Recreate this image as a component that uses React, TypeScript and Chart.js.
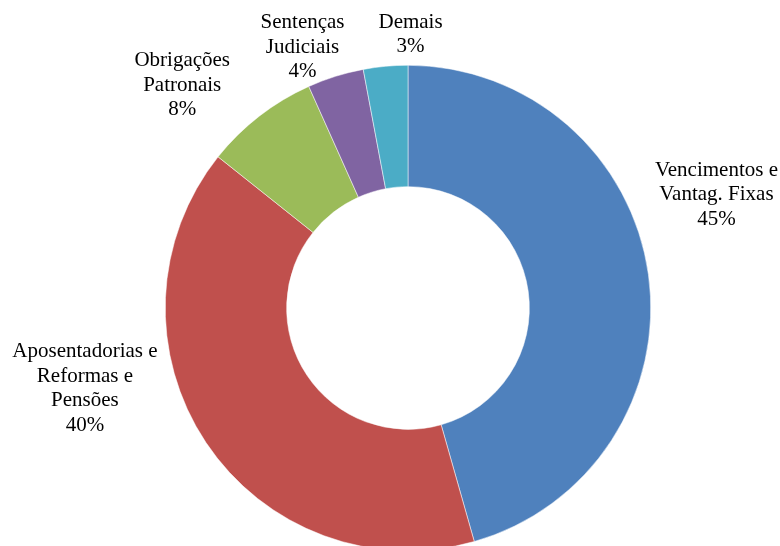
import React, { useEffect, useRef } from "react";
import { Chart, registerables } from "chart.js";

Chart.register(...registerables);

const categories: string[][] = [
  ["Vencimentos e", "Vantag. Fixas"],
  ["Aposentadorias e", "Reformas e", "Pensões"],
  ["Obrigações", "Patronais"],
  ["Sentenças", "Judiciais"],
  ["Demais"],
];
const values: number[] = [45.6, 40.1, 7.6, 3.75, 2.95];
const percentLabels: string[] = ["45%", "40%", "8%", "4%", "3%"];
const colors: string[] = ["#4F81BD", "#C0504D", "#9BBB59", "#8064A2", "#4BACC6"];

// label placement relative to the outer edge point at each slice's mid-angle
const labelOffsets: [number, number][] = [
  [68, -80],
  [-121, -54],
  [-77, -31],
  [-33, -29],
  [25, -32],
];

const labelPlugin = {
  id: "sliceLabels",
  afterDatasetsDraw(chart: any) {
    const ctx = chart.ctx;
    const meta = chart.getDatasetMeta(0);
    ctx.save();
    ctx.font = '21px "Liberation Serif", "Times New Roman", serif';
    ctx.fillStyle = "#000";
    ctx.textAlign = "center";
    ctx.textBaseline = "middle";
    const lineH = 24.5;
    meta.data.forEach((arc: any, i: number) => {
      const { x, y, startAngle, endAngle, outerRadius } = arc.getProps(
        ["x", "y", "startAngle", "endAngle", "outerRadius"],
        true
      );
      const mid = (startAngle + endAngle) / 2;
      const ex = x + Math.cos(mid) * outerRadius;
      const ey = y + Math.sin(mid) * outerRadius;
      const cx = ex + labelOffsets[i][0];
      const cy = ey + labelOffsets[i][1];
      const lines = [...categories[i], percentLabels[i]];
      const top = cy - ((lines.length - 1) * lineH) / 2;
      lines.forEach((l, k) => ctx.fillText(l, cx, top + k * lineH));
    });
    ctx.restore();
  },
};

export default function App() {
  const ref = useRef<HTMLCanvasElement>(null);
  useEffect(() => {
    document.body.style.margin = "0";
    const chart = new Chart(ref.current!, {
      type: "doughnut",
      data: {
        labels: categories.map((c) => c.join(" ")),
        datasets: [
          {
            data: values,
            backgroundColor: colors,
            borderWidth: 0.5,
            borderColor: "#ffffff",
          },
        ],
      },
      options: {
        responsive: false,
        animation: false,
        cutout: "50%",
        layout: { padding: { left: 165, right: 129, top: 65, bottom: 69 } },
        plugins: { legend: { display: false }, tooltip: { enabled: false } },
      },
      plugins: [labelPlugin],
    });
    return () => chart.destroy();
  }, []);
  return (
    <div style={{ position: "absolute", left: 0, top: 0, width: 780, height: 546, overflow: "hidden", background: "#fff" }}>
      <canvas ref={ref} width={780} height={620} style={{ display: "block" }} />
    </div>
  );
}
